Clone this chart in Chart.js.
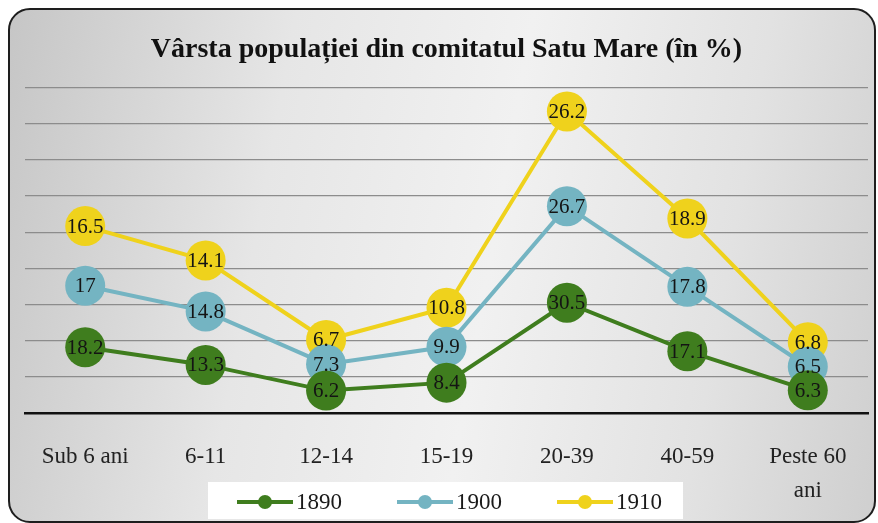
<!DOCTYPE html>
<html>
<head>
<meta charset="utf-8">
<script src="https://cdn.jsdelivr.net/npm/chart.js@4"></script>
<style>
  html, body { margin: 0; padding: 0; background: #fff; }
  #wrap { position: relative; width: 878px; height: 523px; overflow: hidden; }
  #frame {
    position: absolute; left: 8px; top: 8px; width: 864px; height: 511px;
    border: 2px solid #1e1e1e; border-radius: 22px;
    background: linear-gradient(100deg, #c6c6c6 0%, #e6e6e6 30%, #f1f1f1 55%, #e2e2e2 80%, #cfcfcf 100%);
  }
  canvas { position: absolute; left: 0; top: 0; }
</style>
</head>
<body>
<div id="wrap">
  <div id="frame"></div>
  <canvas id="ageChart" width="878" height="523"></canvas>
</div>
<script>
// date
const categories = ['Sub 6 ani', '6-11', '12-14', '15-19', '20-39', '40-59', ['Peste 60', 'ani']];
const values1890 = [18.2, 13.3, 6.2, 8.4, 30.5, 17.1, 6.3];
const values1900 = [17, 14.8, 7.3, 9.9, 26.7, 17.8, 6.5];
const values1910 = [16.5, 14.1, 6.7, 10.8, 26.2, 18.9, 6.8];
const seriesNames = ['1890', '1900', '1910'];
const seriesColors = ['#3f7d1e', '#74b4c2', '#efd21c'];

const serif = "'Liberation Serif', 'DejaVu Serif', serif";

function makeSeries(label, data, color) {
  return {
    label: label,
    data: data,
    borderColor: color,
    backgroundColor: color,
    borderWidth: 4,
    pointRadius: 20,
    pointHoverRadius: 20,
    pointBorderWidth: 0,
    pointBackgroundColor: color,
    fill: false,
    tension: 0
  };
}

// etichete in mijlocul cercurilor
const valueLabels = {
  id: 'valueLabels',
  afterDatasetsDraw(chart) {
    const ctx = chart.ctx;
    ctx.save();
    ctx.font = '21px ' + serif;
    ctx.fillStyle = '#141414';
    ctx.textAlign = 'center';
    ctx.textBaseline = 'middle';
    chart.data.datasets.forEach((ds, i) => {
      chart.getDatasetMeta(i).data.forEach((pt, j) => {
        ctx.fillText(String(ds.data[j]), pt.x, pt.y + 1);
      });
    });
    ctx.restore();
  }
};

// legenda pe fundal alb
const boxLegend = {
  id: 'boxLegend',
  afterDraw(chart) {
    const ctx = chart.ctx;
    ctx.save();
    ctx.fillStyle = '#ffffff';
    ctx.fillRect(208, 482, 475, 37);
    const starts = [237, 397, 557];
    const y = 502;
    chart.data.datasets.forEach((ds, i) => {
      const x = starts[i];
      ctx.strokeStyle = ds.borderColor;
      ctx.lineWidth = 4;
      ctx.beginPath();
      ctx.moveTo(x, y);
      ctx.lineTo(x + 56, y);
      ctx.stroke();
      ctx.fillStyle = ds.borderColor;
      ctx.beginPath();
      ctx.arc(x + 28, y, 7, 0, Math.PI * 2);
      ctx.fill();
      ctx.fillStyle = '#1a1a1a';
      ctx.font = '23px ' + serif;
      ctx.textAlign = 'left';
      ctx.textBaseline = 'middle';
      ctx.fillText(ds.label, x + 59, y + 1);
    });
    ctx.restore();
  }
};

const ctx = document.getElementById('ageChart').getContext('2d');
const ageChart = new Chart(ctx, {
  type: 'line',
  data: {
    labels: categories,
    datasets: [
      makeSeries(seriesNames[0], values1890, seriesColors[0]),
      makeSeries(seriesNames[1], values1900, seriesColors[1]),
      makeSeries(seriesNames[2], values1910, seriesColors[2])
    ]
  },
  options: {
    responsive: false,
    animation: false,
    layout: { autoPadding: false, padding: { left: 25, right: 10, top: 0, bottom: 0 } },
    plugins: {
      legend: { display: false },
      tooltip: { enabled: false },
      title: {
        display: true,
        text: 'Vârsta populației din comitatul Satu Mare (în %)',
        color: '#111',
        font: { family: serif, size: 28, weight: 'bold' },
        padding: { top: 33, bottom: 21 }
      }
    },
    scales: {
      x: {
        offset: true,
        grid: { display: false },
        border: { display: true, color: '#111', width: 2.5 },
        ticks: {
          color: '#222',
          font: { family: serif, size: 23, lineHeight: 1.52 },
          padding: 18,
          maxRotation: 0,
          autoSkip: false
        },
        afterFit(scale) { scale.height = 110; }
      },
      y: {
        stacked: true,
        min: 0,
        max: 90,
        ticks: { display: false, stepSize: 10 },
        border: { display: false },
        grid: {
          drawTicks: false,
          color: (c) => c.tick && c.tick.value === 0 ? 'rgba(0,0,0,0)' : '#8c8c8c',
          lineWidth: 1.2
        },
        afterFit(scale) { scale.width = 0; }
      }
    }
  },
  plugins: [valueLabels, boxLegend]
});
</script>
</body>
</html>
